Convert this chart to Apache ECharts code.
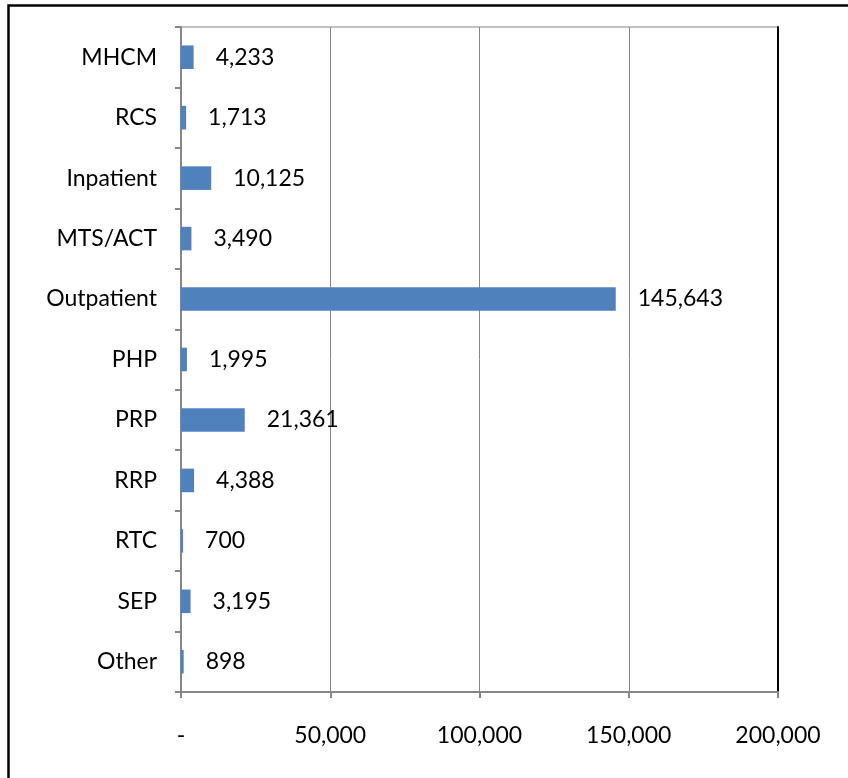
<!DOCTYPE html>
<html>
<head>
<meta charset="utf-8">
<script src="https://cdn.jsdelivr.net/npm/echarts@6/dist/echarts.min.js"></script>
<style>
  html, body { margin: 0; padding: 0; background: #fff; }
  #chart { width: 848px; height: 778px; }
</style>
</head>
<body>
<div id="chart"></div>
<script>
// program categories, top to bottom
const categories = ['MHCM', 'RCS', 'Inpatient', 'MTS/ACT', 'Outpatient', 'PHP', 'PRP', 'RRP', 'RTC', 'SEP', 'Other'];
const counts = [4233, 1713, 10125, 3490, 145643, 1995, 21361, 4388, 700, 3195, 898];
const xTicks = [0, 50000, 100000, 150000, 200000];

const font = 'Lato, "Noto Sans", sans-serif';
const fmt = v => v === 0 ? '-' : v.toLocaleString('en-US');

const chart = echarts.init(document.getElementById('chart'));

const option = {
    animation: false,
    backgroundColor: '#fff',
    textStyle: { fontFamily: font },
    graphic: [{
        type: 'rect',
        shape: { x: 8.5, y: 5.5, width: 900, height: 900 },
        style: { fill: 'none', stroke: '#000', lineWidth: 2.5 },
        silent: true
    }],
    grid: {
        left: 181, top: 27, right: 70, bottom: 86,
        show: true, borderColor: '#868686', borderWidth: 1,
        backgroundColor: 'transparent'
    },
    xAxis: {
        type: 'value',
        min: xTicks[0],
        max: xTicks[xTicks.length - 1],
        interval: xTicks[1] - xTicks[0],
        axisLine: { show: true, lineStyle: { color: '#868686', width: 2 } },
        axisTick: { show: true, length: 6, lineStyle: { color: '#868686', width: 2 } },
        axisLabel: { color: '#000', fontSize: 23, margin: 32, formatter: fmt },
        splitLine: { show: true, lineStyle: { color: '#868686', width: 1 } }
    },
    yAxis: [{
        type: 'category',
        data: categories,
        inverse: true,
        axisLine: { show: true, lineStyle: { color: '#868686', width: 2 } },
        axisTick: { show: true, length: 6, lineStyle: { color: '#868686', width: 2 } },
        axisLabel: { color: '#000', fontSize: 23, margin: 24 }
    }, {
        // black right edge of the plot area
        type: 'category',
        data: categories,
        position: 'right',
        inverse: true,
        axisLine: { show: true, lineStyle: { color: '#000', width: 2 } },
        axisTick: { show: false },
        axisLabel: { show: false }
    }],
    series: [{
        type: 'bar',
        data: counts,
        barWidth: '39%',
        itemStyle: { color: '#4F81BD' },
        label: {
            show: true,
            position: 'right',
            distance: 22,
            color: '#000',
            fontSize: 23,
            formatter: p => fmt(p.value)
        }
    }]
};

chart.setOption(option);
</script>
</body>
</html>
